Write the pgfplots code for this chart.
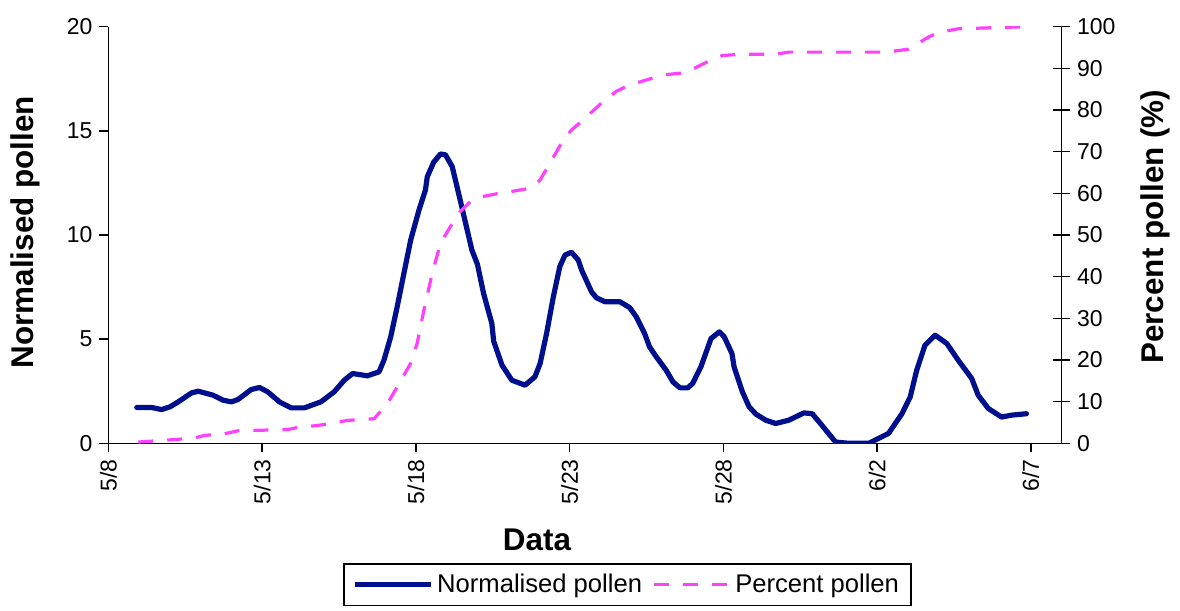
\documentclass[border=0pt]{standalone}
\usepackage{fontspec}
\setmainfont{Liberation Sans}
\usepackage{pgfplots}
\pgfplotsset{compat=1.18}

\definecolor{navy}{RGB}{0,16,140}
\definecolor{pinkline}{RGB}{255,64,255}

% daily-ish readings, day 0 = 5/8
\pgfplotstableread{
day val
0.92 1.72
1.40 1.72
1.73 1.62
2.00 1.75
2.27 1.99
2.70 2.42
2.92 2.50
3.40 2.31
3.73 2.07
4.00 1.99
4.21 2.10
4.64 2.58
4.91 2.68
5.18 2.47
5.56 1.99
5.94 1.70
6.37 1.70
6.91 1.99
7.34 2.47
7.67 3.03
7.94 3.35
8.42 3.24
8.80 3.43
8.96 3.99
9.18 5.11
9.39 6.55
9.61 8.16
9.83 9.76
10.10 11.20
10.31 12.16
10.37 12.80
10.58 13.50
10.80 13.89
10.96 13.85
11.18 13.29
11.44 11.68
11.82 9.28
12.00 8.60
12.20 7.20
12.47 5.75
12.53 4.90
12.80 3.75
13.12 3.03
13.55 2.79
13.87 3.19
14.04 3.83
14.25 5.27
14.47 7.03
14.68 8.48
14.85 9.04
15.06 9.17
15.28 8.80
15.39 8.32
15.71 7.28
15.87 6.99
16.14 6.80
16.63 6.80
16.95 6.52
17.17 6.07
17.44 5.27
17.60 4.63
17.82 4.15
18.14 3.51
18.36 2.95
18.59 2.66
18.84 2.66
19.00 2.87
19.27 3.67
19.60 5.03
19.87 5.35
20.03 5.11
20.28 4.31
20.35 3.67
20.62 2.47
20.84 1.75
21.06 1.40
21.38 1.11
21.70 0.95
22.13 1.11
22.62 1.46
22.89 1.42
23.16 0.95
23.65 0.06
24.08 0
24.73 0
25.37 0.47
25.81 1.42
26.08 2.23
26.29 3.51
26.56 4.71
26.89 5.19
27.27 4.79
27.64 3.99
28.08 3.11
28.29 2.31
28.62 1.67
29.05 1.26
29.37 1.35
29.86 1.42
}\normdata

\pgfplotstableread{
day pct
0.97 0.3
2.16 0.9
2.81 1.3
3.13 1.9
3.78 2.3
4.21 3.0
5.83 3.3
6.15 3.8
6.70 4.2
7.13 4.6
7.77 5.5
8.64 5.9
9.07 9.5
9.39 13.5
9.83 19.2
10.04 24.0
10.26 32.0
10.53 40.8
10.80 48.0
11.12 52.0
11.44 55.6
11.77 58.0
12.15 59.2
12.63 59.9
13.06 60.4
13.71 61.2
14.04 63.2
14.42 68.0
14.79 72.8
15.06 75.2
15.44 77.6
16.04 81.7
16.52 84.5
16.95 86.0
17.71 87.7
18.14 88.5
18.68 88.9
19.00 89.8
19.65 92.2
19.98 93.1
20.62 93.4
21.70 93.4
22.13 93.9
25.30 93.9
26.02 94.6
26.67 97.5
26.99 98.6
27.64 99.5
29.86 100
}\pctdata

\begin{document}
\begin{tikzpicture}
\path[use as bounding box] (-54.25pt,-83.85pt) rectangle (535.75pt,221.65pt);
\pgfplotsset{
  every axis/.append style={
    scale only axis, width=476.5pt, height=208.3pt,
    xmin=0, xmax=31,
    /pgf/number format/assume math mode=true,
    tick style={black, line width=0.75pt},
    axis line style={black, line width=0.75pt},
    ticklabel style={font=\fontsize{11.5}{12}\selectfont},
    label style={font=\fontsize{15.7}{17}\selectfont\bfseries},
  }
}
\begin{axis}[
  axis x line*=bottom, axis y line*=left,
  ymin=0, ymax=20, ytick={0,5,10,15,20},
  xtick={0,5,10,15,20,25,30},
  xticklabels={5/8,5/13,5/18,5/23,5/28,6/2,6/7},
  xticklabel style={rotate=90, anchor=east},
  tick align=outside, major tick length=4.5pt,
  xlabel={Data},
  xlabel style={at={(axis description cs:0.4496,-0.232)}, anchor=center},
  ylabel={Normalised pollen},
  ylabel style={at={(axis description cs:-0.0876,0.507)}, anchor=center, rotate=0},
]
\addplot[navy, line width=2.6pt, line join=round, line cap=round] table[x=day, y=val] {\normdata};
\end{axis}
\begin{axis}[
  axis x line=none, axis y line*=right,
  ymin=0, ymax=100, ytick={0,10,...,100},
  tick align=center, major tick length=8.5pt,
  ylabel={Percent pollen (\%)},
  ylabel style={at={(axis description cs:1.098,0.52)}, anchor=center},
  legend style={at={(0.5446,-0.288)}, anchor=north, legend columns=2,
    draw=black, line width=0.75pt, font=\fontsize{12.8}{14}\selectfont,
    inner xsep=4pt, inner ysep=3pt,
    /tikz/every even column/.append style={column sep=3pt}},
  legend image code/.code={\draw[#1] (0pt,0pt) -- (38pt,0pt);},
]
\addlegendimage{navy, line width=2.6pt}
\addlegendentry{Normalised pollen}
\addplot[pinkline, line width=1.6pt, dash pattern=on 7.5pt off 7pt] table[x=day, y=pct] {\pctdata};
\addlegendentry{Percent pollen}
\end{axis}
\end{tikzpicture}
\end{document}
